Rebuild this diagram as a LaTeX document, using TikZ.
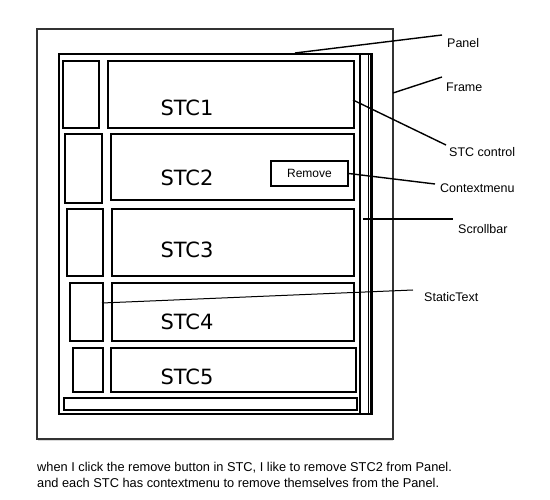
\documentclass[tikz,border=0pt]{standalone}
\usepackage{fontspec}
\setmainfont{Liberation Sans}
\newfontfamily\stcfont{DejaVu Sans}
\begin{document}
\begin{tikzpicture}[x=1pt,y=-1pt,
  box/.style={draw=black,line width=2pt,inner sep=0pt,rectangle},
  framebox/.style={draw=black!80,line width=1.5pt,inner sep=0pt,rectangle},
  conn/.style={draw=black,line width=1.4pt},
  lab/.style={anchor=west,inner sep=0pt,font=\fontsize{12.5}{14}\selectfont},
  stc/.style={inner sep=0pt,font=\stcfont\fontsize{21}{24}\selectfont},
  note/.style={anchor=west,inner sep=0pt,font=\fontsize{12.8}{15}\selectfont}]
\useasboundingbox (0,0) rectangle (550,500);
\fill[white] (0,0) rectangle (550,500);
% frame and panel
\node[framebox,minimum width=356pt,minimum height=410pt] (frame) at (215,234) {};
\draw[black!15,line width=1pt] (38,440.5) -- (393,440.5);
\node[box,minimum width=313pt,minimum height=360pt] (panel) at (215.5,234) {};
\node[box,minimum width=11pt,minimum height=360pt] (scroll) at (365.5,234) {};
\draw[line width=1pt] (368,55) -- (368,413);
% static texts
\node[box,minimum width=36pt,minimum height=67pt] (s1) at (81,94.5) {};
\node[box,minimum width=37pt,minimum height=69pt] (s2) at (83.5,168.5) {};
\node[box,minimum width=36pt,minimum height=67pt] (s3) at (85,242.5) {};
\node[box,minimum width=33pt,minimum height=58pt] (s4) at (86.5,312) {};
\node[box,minimum width=30pt,minimum height=44pt] (s5) at (88,370) {};
% STC controls
\node[box,minimum width=246pt,minimum height=67pt] (c1) at (231,94.5) {};
\node[box,minimum width=243pt,minimum height=66pt] (c2) at (232.5,167) {};
\node[box,minimum width=242pt,minimum height=67pt] (c3) at (233,242.5) {};
\node[box,minimum width=242pt,minimum height=58pt] (c4) at (233,312) {};
\node[box,minimum width=245pt,minimum height=44pt] (c5) at (233.5,370) {};
\node[box,minimum width=293pt,minimum height=12pt] (hbar) at (210.5,404) {};
\node[stc] (t1) at (187,108) {STC1};
\node[stc] (t2) at (187,178) {STC2};
\node[stc] (t3) at (187,250) {STC3};
\node[stc] (t4) at (187,322) {STC4};
\node[stc] (t5) at (187,377) {STC5};
% remove button
\node[draw=black,line width=1.5pt,inner sep=0pt,minimum width=77pt,minimum height=25pt,
  font=\fontsize{12}{14}\selectfont] (rm) at (309.5,173.5) {Remove};
% labels
\node[lab] (lpanel) at (447,43) {Panel};
\node[lab] (lframe) at (446,87) {Frame};
\node[lab] (lstc) at (449,152) {STC control};
\node[lab] (lctx) at (440,188) {Contextmenu};
\node[lab] (lscroll) at (458,229) {Scrollbar};
\node[lab] (lstatic) at (424,297) {StaticText};
% connector ends
\coordinate (pA) at (295,53);
\coordinate (pB) at (442,35);
\coordinate (fA) at (393,93);
\coordinate (fB) at (442,77);
\coordinate (sA) at (353,100);
\coordinate (sB) at (446,145);
\coordinate (cB) at (435,184);
\coordinate (scA) at (363,219);
\coordinate (scB) at (453,219);
\coordinate (stA) at (102,303);
\coordinate (stB) at (413,290);
\draw[conn] (pA) -- (pB);
\draw[conn] (fA) -- (fB);
\draw[conn] (sA) -- (sB);
\draw[conn] (rm.east) -- (cB);
\draw[conn] (scA) -- (scB);
\draw[black,line width=1pt] (stA) -- (stB);
% note
\node[note] (n1) at (37,468) {when I click the remove button in STC, I like to remove STC2 from Panel.};
\node[note] (n2) at (37,483) {and each STC has contextmenu to remove themselves from the Panel.};
\end{tikzpicture}
\end{document}
